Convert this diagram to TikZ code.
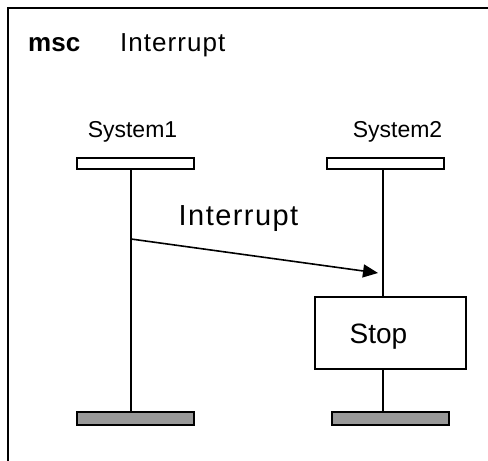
\documentclass[tikz,border=0pt]{standalone}
\usepackage{fontspec}
\setmainfont{Liberation Sans}
\usetikzlibrary{arrows.meta}

\tikzset{
  headbox/.style={draw, line width=1.6pt, fill=white, minimum width=117pt, minimum height=11pt, inner sep=0pt},
  endbar/.style={draw, line width=1.6pt, fill=black!40, minimum width=117pt, minimum height=13pt, inner sep=0pt},
  lifeline/.style={line width=1.6pt},
  msgarrow/.style={line width=1.6pt, -{Triangle[length=15pt,width=13pt]}},
  actionbox/.style={draw, line width=1.6pt, fill=white, minimum width=151pt, minimum height=72pt, inner sep=0pt},
  instname/.style={font=\fontsize{23}{26}\selectfont, anchor=base, inner sep=0pt},
}

\begin{document}
\begin{tikzpicture}[x=1pt, y=-1pt]
  \useasboundingbox (0,0) rectangle (488,461);
  \clip (0,0) rectangle (488,461);

  % diagram frame (open towards the right and bottom edges)
  \draw[line width=2.6pt] (500,8) -- (8,8) -- (8,475);

  % heading
  \node[anchor=base west, inner sep=0pt, font=\bfseries\fontsize{26}{30}\selectfont] (kw) at (28,51) {msc};
  \node[anchor=base west, inner sep=0pt, font=\fontsize{26}{30}\selectfont\addfontfeatures{LetterSpace=4}] (title) at (120,51) {Interrupt};

  % instance names
  \node[instname] (name1) at (132.5,137) {System1};
  \node[instname] (name2) at (397.5,137) {System2};

  % instance heads and ends
  \node[headbox] (head1) at (135.5,163.5) {};
  \node[headbox] (head2) at (385.5,163.5) {};
  \node[endbar] (end1) at (135.5,418.5) {};
  \node[endbar] (end2) at (390.5,418.5) {};

  % action on System2
  \node[actionbox, label={[font=\fontsize{28}{32}\selectfont, xshift=-12pt, yshift=-4pt]center:Stop}] (stop) at (390.5,333) {};

  % lifelines
  \coordinate (x1) at (131,0);
  \coordinate (x2) at (383,0);
  \draw[lifeline] (head1.south -| x1) -- (end1.north -| x1);
  \draw[lifeline] (head2.south -| x2) -- (stop.north -| x2);
  \draw[lifeline] (stop.south -| x2) -- (end2.north -| x2);

  % message
  \coordinate (msgstart) at (131,239);
  \coordinate (msgend) at (378,273);
  \draw[msgarrow] (msgstart) -- (msgend);
  \node[anchor=base, inner sep=0pt, font=\fontsize{29}{33}\selectfont\addfontfeatures{LetterSpace=5}] (msglabel) at (238.5,225) {Interrupt};
\end{tikzpicture}
\end{document}
